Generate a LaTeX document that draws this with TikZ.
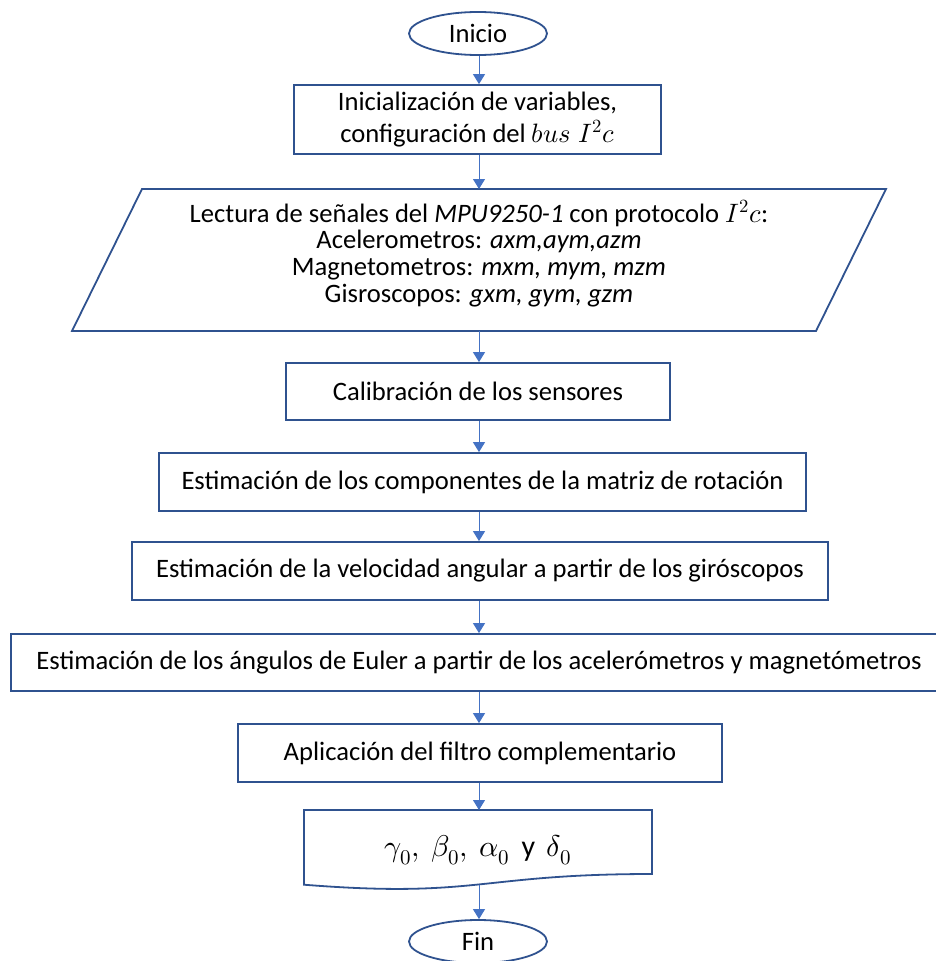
\documentclass[tikz,border=0pt]{standalone}
\usepackage{fontspec}
\usepackage{unicode-math}
\setmainfont{Carlito}
\usetikzlibrary{arrows.meta,calc,shapes.geometric}
\definecolor{edgeblue}{HTML}{2F528F}
\definecolor{flowblue}{HTML}{4472C4}
\begin{document}
\begin{tikzpicture}[x=1pt,y=-1pt,
  font=\fontsize{26.6}{32}\selectfont,
  outline/.style={draw=edgeblue,line width=1.8pt},
  procbox/.style={outline,rectangle,align=center,inner sep=0pt},
  term/.style={outline,ellipse,inner sep=0pt,minimum width=138pt,minimum height=43pt},
  holder/.style={rectangle,align=center,inner sep=0pt,outer sep=0pt},
  flowline/.style={draw=flowblue,line width=1pt,-{Triangle[width=12pt,length=10pt]}}]
\useasboundingbox (0,0) rectangle (935,961);

% vertical axis of the flow
\coordinate (axis) at (479,0);

% terminals and process steps
\node[term] (start) at (478,33.5) {Inicio};
\node[procbox,minimum width=367pt,minimum height=69pt] (init) at (477.5,119.5)
  {Inicialización de variables,\\configuración del $bus\;I^2c$};

% input/output step: parallelogram drawn around a frame holder
\node[holder,minimum width=744pt,minimum height=142pt] (read) at (479,260) {};
\draw[outline,line join=miter]
  ($(read.north west)+(35,0)$) -- ($(read.north east)+(35,0)$) --
  ($(read.south east)+(-35,0)$) -- ($(read.south west)+(-35,0)$) -- cycle;
\node[holder,font=\fontsize{26.6}{26.7}\selectfont] (readtext) at (479,253.5)
  {Lectura de señales del \textit{MPU9250-1} con protocolo $I^2c$:\\
   Acelerometros: \textit{axm,aym,azm}\\
   Magnetometros: \textit{mxm, mym, mzm}\\
   Gisroscopos: \textit{gxm, gym, gzm}};

\node[procbox,minimum width=384pt,minimum height=57pt] (calib) at (478,391.5)
  {Calibración de los sensores};
\node[procbox,minimum width=647pt,minimum height=58pt] (rot) at (482.5,482)
  {Estimación de los componentes de la matriz de rotación};
\node[procbox,minimum width=696pt,minimum height=58pt] (vel) at (480,571)
  {Estimación de la velocidad angular a partir de los giróscopos};
\node[procbox,minimum width=936pt,minimum height=57pt] (euler) at (479,662.5)
  {Estimación de los ángulos de Euler a partir de los acelerómetros y magnetómetros};
\node[procbox,minimum width=484pt,minimum height=58pt] (filt) at (480,753)
  {Aplicación del filtro complementario};

% document shape with wavy bottom edge
\node[holder,minimum width=348pt,minimum height=80pt,font=\fontsize{30}{34}\selectfont] (out) at (478,850)
  {$\gamma_0,\ \beta_0,\ \alpha_0$ \,y\, $\delta_0$};
\draw[outline,line join=miter]
  (out.north west) -- (out.north east) -- ($(out.north east)+(0,64)$)
  .. controls ($(out.north)+(0,64)$) and ($(out.north)+(0,88.5)$) ..
  ($(out.north west)+(0,74.7)$) -- cycle;
\coordinate (outb) at ($(out.north)+(0,74.6)$);

\node[term] (stop) at (478,941.5) {Fin};

% connectors
\draw[flowline] (axis |- start.south) -- (axis |- init.north);
\draw[flowline] (axis |- init.south) -- (axis |- read.north);
\draw[flowline] (axis |- read.south) -- (axis |- calib.north);
\draw[flowline] (axis |- calib.south) -- (axis |- rot.north);
\draw[flowline] (axis |- rot.south) -- (axis |- vel.north);
\draw[flowline] (axis |- vel.south) -- (axis |- euler.north);
\draw[flowline] (axis |- euler.south) -- (axis |- filt.north);
\draw[flowline] (axis |- filt.south) -- (axis |- out.north);
\draw[flowline] (axis |- outb) -- (axis |- stop.north);
\end{tikzpicture}
\end{document}
